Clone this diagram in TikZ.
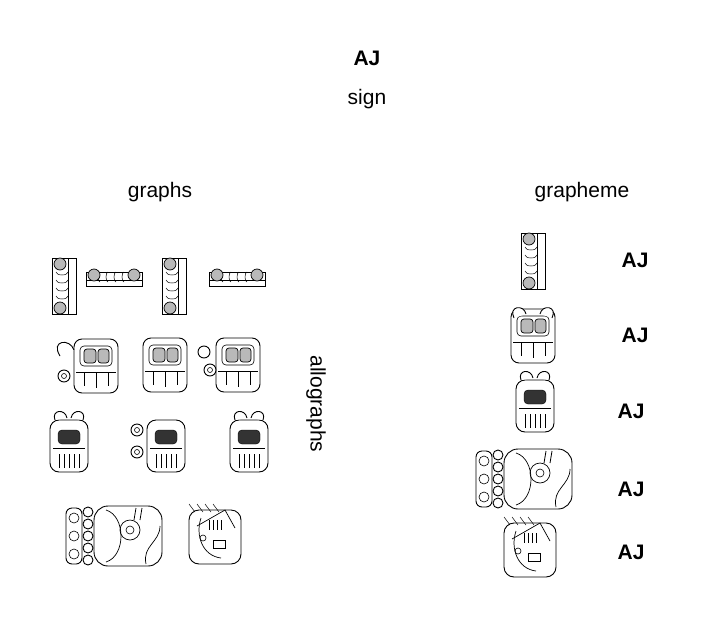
\documentclass[tikz,border=0pt]{standalone}
\usepackage{fontspec}
\setmainfont{Liberation Sans}
\begin{document}
\begin{tikzpicture}[x=1pt,y=-1pt,
  lab/.style={font=\fontsize{21}{24}\selectfont},
  aj/.style={font=\bfseries\fontsize{21}{24}\selectfont},
  gl/.style={draw=black,line width=0.9pt,fill=white},
  shade/.style={draw=black,line width=0.7pt,fill=gray!55},
  dark/.style={draw=black,fill=black!80},
  pics/vbar/.style={code={
    \draw[gl] (-12,-28) rectangle (12,28);
    \draw[gl] (4,-28) -- (4,28);
    \foreach \yy in {-14,-6,2,10}{\draw[line width=0.5pt] (-8,\yy) arc(180:0:6 and 3);}
    \draw[shade] (-4,-22) circle (6);
    \draw[shade] (-4,22) circle (6);}},
  pics/hbar/.style={code={
    \draw[gl] (-28,-4) rectangle (28,10);
    \draw[gl] (-28,4) -- (28,4);
    \foreach \xx in {-14,-6,2,10}{\draw[line width=0.5pt] (\xx,-4) arc(270:90:2 and 5);}
    \draw[shade] (-20,-1) circle (6);
    \draw[shade] (20,-1) circle (6);}},
  pics/lordhead/.style={code={
    \draw[gl,rounded corners=8] (-22,-27) rectangle (22,27);
    \draw[line width=0.6pt,rounded corners=4] (-16,-20) rectangle (16,0);
    \draw[shade,rounded corners=3] (-12,-17) rectangle (0,-3);
    \draw[shade,rounded corners=3] (2,-17) rectangle (13,-3);
    \draw[line width=0.6pt] (-20,6) -- (20,6);
    \draw[line width=0.6pt] (-12,6) -- (-12,20) (0,6) -- (0,22) (12,6) -- (12,20);}},
  pics/scroll/.style={code={
    \draw[gl] (0,0) circle (6);
    \draw[line width=0.6pt] (0,0) circle (2.5);}},
  pics/ajaw/.style={code={
    \draw[gl,rounded corners=9] (-19,-22) rectangle (19,30);
    \draw[dark,rounded corners=4] (-11,-12) rectangle (11,2);
    \foreach \xx in {-10,-5,0,5,10}{\draw[line width=0.6pt] (\xx,12) -- (\xx,26);}
    \draw[line width=0.6pt] (-16,6) -- (16,6);}},
  pics/topscroll/.style={code={
    \draw[gl] (-14,-22) .. controls (-18,-32) and (-4,-34) .. (-2,-24);
    \draw[gl] (14,-22) .. controls (18,-32) and (4,-34) .. (2,-24);}},
  pics/face/.style={code={
    \draw[gl,rounded corners=10] (-26,-26) rectangle (26,28);
    \draw[line width=0.7pt] (-14,-18) .. controls (-20,0) and (-12,20) .. (6,22);
    \draw[line width=0.7pt] (-18,-10) -- (10,-26) -- (20,-8);
    \foreach \xx in {-6,-2,2,6}{\draw[line width=0.5pt] (\xx,-16) -- (\xx,-6);}
    \draw[line width=0.6pt] (-2,4) rectangle (10,12);
    \draw[line width=0.6pt] (-12,2) circle (3);
    \foreach \xx in {-20,-12,-4,4}{\draw[line width=0.5pt] (\xx,-24) -- (\xx-6,-32);}}},
  pics/bigcomp/.style={code={
    \draw[gl,rounded corners=14] (-22,-30) rectangle (46,30);
    \draw[line width=0.7pt] (-10,-26) .. controls (10,-20) and (10,20) .. (-10,26);
    \draw[line width=0.7pt] (14,-6) circle (10);
    \draw[line width=0.6pt] (14,-6) circle (4);
    \draw[line width=0.7pt] (30,28) .. controls (26,10) and (44,6) .. (44,-10);
    \draw[line width=0.8pt] (20,-28) -- (18,-16) (26,-28) -- (24,-16);
    \foreach \yy in {-24,-12,0,12,24}{\draw[gl] (-28,\yy) circle (5);}
    \draw[gl,rounded corners=6] (-50,-28) rectangle (-34,28);
    \draw[line width=0.6pt] (-42,-18) circle (5) (-42,0) circle (5) (-42,18) circle (5);}},
]
\useasboundingbox (0,0) rectangle (727,618);
% headings
\node[aj] (t1) at (367,58) {AJ};
\node[lab] (t2) at (367,99) {sign};
\node[lab] (t3) at (160,192) {graphs};
\node[lab] (t4) at (582,192) {grapheme};
\node[lab,rotate=-90] (t5) at (316,404) {allographs};
% row 1
\pic at (64,286) {vbar};
\pic at (114,276) {hbar};
\pic at (174,286) {vbar};
\pic at (237,276) {hbar};
% row 2
\pic at (96,366) {lordhead};
\draw[gl] (60,356) .. controls (50,340) and (70,338) .. (74,350);
\pic at (64,376) {scroll};
\pic at (165,365) {lordhead};
\pic at (238,365) {lordhead};
\pic at (210,370) {scroll};
\draw[gl] (204,352) circle (6);
% row 3
\pic at (69,442) {ajaw};\pic at (69,442) {topscroll};
\pic at (166,442) {ajaw};
\pic at (137,430) {scroll};\pic at (137,452) {scroll};
\pic at (249,442) {ajaw};\pic at (249,442) {topscroll};
% row 4
\pic at (116,536) {bigcomp};
\pic at (215,536) {face};
% right column
\pic at (533,261) {vbar};
\pic at (533,336) {lordhead};
\draw[gl] (514,318) .. controls (508,306) and (524,304) .. (526,314);
\draw[gl] (552,318) .. controls (558,306) and (542,304) .. (540,314);
\pic at (535,402) {ajaw};\pic at (535,402) {topscroll};
\pic at (526,479) {bigcomp};
\pic at (530,549) {face};
\node[aj] (a1) at (635,260) {AJ};
\node[aj] (a2) at (635,335) {AJ};
\node[aj] (a3) at (631,411) {AJ};
\node[aj] (a4) at (631,489) {AJ};
\node[aj] (a5) at (631,552) {AJ};
\end{tikzpicture}
\end{document}
